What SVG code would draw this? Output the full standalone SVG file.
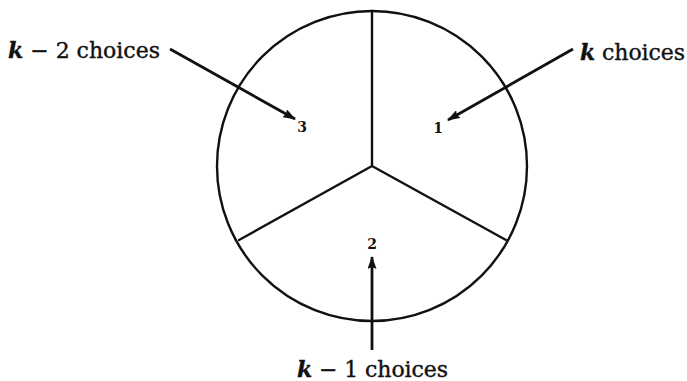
<svg xmlns="http://www.w3.org/2000/svg" width="687" height="381" viewBox="0 0 687 381">
<style>
.line{fill:none;stroke:#111;stroke-width:2.4;stroke-linecap:round}
.arr{fill:none;stroke:#111;stroke-width:2.8}
.lbl{font-family:"DejaVu Serif","Liberation Serif",serif;font-size:22px;fill:#111;stroke:#111;stroke-width:0.4}
.k{font-weight:bold;font-style:italic}
.num{font-family:"DejaVu Serif","Liberation Serif",serif;font-size:14px;font-weight:bold;fill:#111;text-anchor:middle}
</style>
<defs>
<marker id="ah" viewBox="0 0 13 9" refX="12" refY="4.5" markerWidth="13" markerHeight="9" markerUnits="userSpaceOnUse" orient="auto">
<path d="M0,0 L13,4.5 L0,9 L2,4.5 Z" fill="#111"/>
</marker>
</defs>
<g id="disc">
<circle class="line" cx="372" cy="166" r="155"/>
<path class="line" d="M372,11 L372,166 M372,166 L239,240 M372,166 L506,240"/>
</g>
<g id="region1"><text class="num" x="438" y="133">1</text></g>
<g id="region2"><text class="num" x="372" y="249">2</text></g>
<g id="region3"><text class="num" x="302" y="132">3</text></g>
<g id="label-k2"><text class="lbl" x="8" y="58" textLength="152" lengthAdjust="spacing"><tspan class="k">k</tspan> − 2 choices</text></g>
<g id="label-k"><text class="lbl" x="580" y="60" textLength="105" lengthAdjust="spacing"><tspan class="k">k</tspan> choices</text></g>
<g id="label-k1"><text class="lbl" x="297" y="377" textLength="151" lengthAdjust="spacing"><tspan class="k">k</tspan> − 1 choices</text></g>
<g id="connectors">
<line class="arr" x1="170" y1="49" x2="295" y2="119" marker-end="url(#ah)"/>
<line class="arr" x1="573" y1="49" x2="448" y2="120" marker-end="url(#ah)"/>
<line class="arr" x1="372" y1="350" x2="372" y2="257" marker-end="url(#ah)"/>
</g>
</svg>
